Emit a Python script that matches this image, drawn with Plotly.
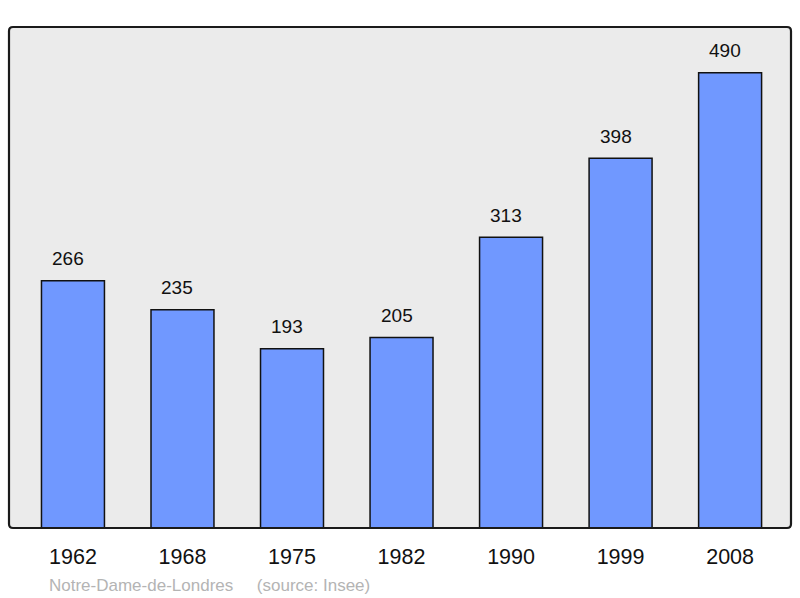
import plotly.graph_objects as go

years = ["1962", "1968", "1975", "1982", "1990", "1999", "2008"]
population = [266, 235, 193, 205, 313, 398, 490]
footer_text = "Notre-Dame-de-Londres &nbsp;&nbsp;&nbsp;&nbsp;(source: Insee)"

W, H = 800, 598
L, R, T, B = 9, 9, 27, 70
FONT = "Liberation Sans, Arial, sans-serif"

fig = go.Figure()
fig.add_trace(go.Bar(
    x=years, y=population,
    width=0.575,
    marker=dict(color="#7098ff", line=dict(color="#111111", width=1.5)),
    hoverinfo="skip",
))

for i, v in enumerate(population):
    fig.add_annotation(x=i, y=v, text=str(v), showarrow=False,
                       yanchor="middle", yshift=22, xshift=-5,
                       font=dict(family=FONT, size=19, color="#111111"))

fig.add_annotation(xref="paper", yref="paper", x=(47 - L) / (W - L - R), y=-(585 - (H - B)) / (H - T - B),
                   xanchor="left", yanchor="middle", text=footer_text, showarrow=False,
                   font=dict(family=FONT, size=17, color="#b4b4b4"))

# rounded frame in paper coords
pw, ph = W - L - R, H - T - B
rx, ry = 4 / pw, 4 / ph
path = (f"M {rx},0 L {1-rx},0 Q 1,0 1,{ry} L 1,{1-ry} Q 1,1 {1-rx},1 "
        f"L {rx},1 Q 0,1 0,{1-ry} L 0,{ry} Q 0,0 {rx},0 Z")
fig.add_shape(type="path", xref="paper", yref="paper", path=path,
              line=dict(color="#1a1a1a", width=2.2), layer="above")

fig.update_layout(
    width=W, height=H,
    margin=dict(l=L, r=R, t=T, b=B),
    paper_bgcolor="white", plot_bgcolor="#ebebeb",
    showlegend=False,
    xaxis=dict(type="category", range=[-0.584, 6.556], showgrid=False, zeroline=False,
               showline=False, ticks="outside", ticklen=9, tickcolor="rgba(0,0,0,0)",
               tickfont=dict(family=FONT, size=21.5, color="#111111"),
               fixedrange=True),
    yaxis=dict(range=[0, 539.2], showgrid=False, zeroline=False, showticklabels=False,
               showline=False, fixedrange=True),
)

fig.write_html("out.html", config={"displayModeBar": False},
               post_script="document.body.style.margin='0';document.body.style.overflow='hidden';")
